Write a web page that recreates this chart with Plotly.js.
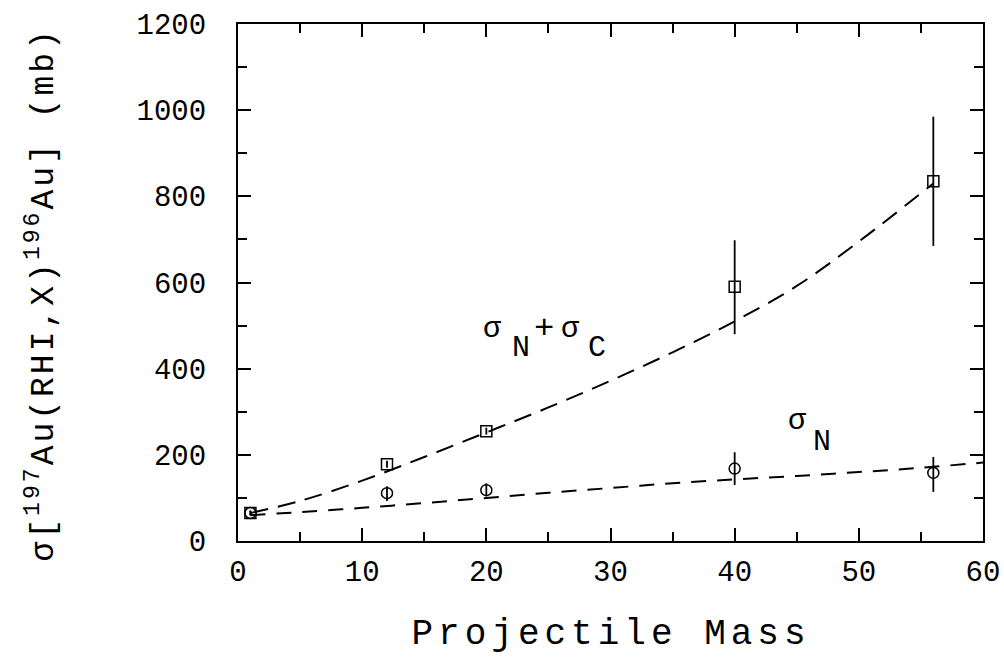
<!DOCTYPE html>
<html><head><meta charset="utf-8">
<script src="https://cdn.plot.ly/plotly-3.0.1.min.js"></script>
<style>
html,body{margin:0;padding:0;background:#fff}
#plot{width:1004px;height:657px}
.annotation[data-index="7"] text{letter-spacing:3px}
.annotation[data-index="8"] text{letter-spacing:5px}
</style>
</head><body><div id="plot"></div>
<script>
// Measured data: sigma_N + sigma_C (squares)
const massNC = [1, 12, 20, 40, 56];
const sigNC = [65, 178, 255, 590, 835];
const errNCplus = [6, 8, 8, 108, 150];
const errNCminus = [6, 8, 8, 110, 150];
// Measured data: sigma_N (circles)
const massN = [1, 12, 20, 40, 56];
const sigN = [65, 111, 118, 168, 158];
const errNplus = [5, 16, 16, 38, 37];
const errNminus = [5, 18, 14, 38, 44];
// Dashed curves
const curveNCx = [1, 5, 10, 15, 20, 25, 30, 35, 40, 45, 50, 56];
const curveNCy = [65, 93, 140, 195, 252, 310, 372, 438, 510, 592, 695, 830];
const curveNx = [1, 5, 10, 15, 20, 25, 30, 35, 40, 45, 50, 55, 60];
const curveNy = [60, 67, 77, 88, 100, 112, 123, 134, 143, 151, 160, 170, 182];
// Tick labels
const xTicks = [0, 10, 20, 30, 40, 50, 60];
const yTicks = [0, 200, 400, 600, 800, 1000, 1200];
// Axis titles
const xTitle = 'Projectile Mass';
const yTitle = 'σ[<sup>197</sup>Au(RHI,X)<sup>196</sup>Au] (mb)';
// Curve labels (pieces of σN+σC and σN)
const labelText = ['σ', 'N', '+', 'σ', 'C', 'σ', 'N'];
const labelX = [20.46, 22.79, 24.64, 26.74, 28.91, 45.02, 47.03];
const labelY = [492, 448, 492, 492, 448, 278, 230];

const FONT = '"Liberation Mono", "DejaVu Sans Mono", monospace';

const traces = [
  {x: curveNCx, y: curveNCy, mode: 'lines', line: {color: '#000', width: 2, dash: '18px,10px', shape: 'spline', smoothing: 1}, hoverinfo: 'skip'},
  {x: curveNx, y: curveNy, mode: 'lines', line: {color: '#000', width: 2, dash: '15px,11px', shape: 'spline', smoothing: 1}, hoverinfo: 'skip'},
  {x: massNC, y: sigNC, mode: 'markers', marker: {symbol: 'square-open', size: 11, color: '#000', line: {width: 1.5}},
   error_y: {type: 'data', symmetric: false, array: errNCplus, arrayminus: errNCminus, color: '#000', thickness: 1.8, width: 0}},
  {x: massN, y: sigN, mode: 'markers', marker: {symbol: 'circle-open', size: 11, color: '#000', line: {width: 1.5}},
   error_y: {type: 'data', symmetric: false, array: errNplus, arrayminus: errNminus, color: '#000', thickness: 1.8, width: 0}}
];

const annotations = labelText.map((t, i) => ({
  x: labelX[i], y: labelY[i], xref: 'x', yref: 'y', showarrow: false,
  text: t, font: {size: t === '+' ? 34 : 30, family: FONT, color: '#000'}
}));
// y-axis title (index 7) and x-axis title (index 8)
annotations.push({
  x: -0.2644, y: 0.4758, xref: 'paper', yref: 'paper', showarrow: false, textangle: -90,
  xanchor: 'center', yanchor: 'middle',
  text: yTitle, font: {size: 33, family: FONT, color: '#000'}
});
annotations.push({
  x: 0.5, y: -0.1818, xref: 'paper', yref: 'paper', showarrow: false,
  xanchor: 'center', yanchor: 'middle',
  text: xTitle, font: {size: 36, family: FONT, color: '#000'}
});

const layout = {
  width: 1004, height: 657,
  margin: {l: 238, r: 21, t: 24, b: 116},
  paper_bgcolor: '#fff', plot_bgcolor: '#fff',
  showlegend: false,
  font: {family: FONT, color: '#000'},
  xaxis: {
    range: [0, 60], tickvals: xTicks,
    showgrid: false, zeroline: false, showline: true, linecolor: '#000', linewidth: 2,
    mirror: 'allticks', ticks: 'inside', ticklen: 13, tickwidth: 2, tickcolor: '#000',
    minor: {dtick: 5, ticks: 'inside', ticklen: 9, tickwidth: 2, tickcolor: '#000', showgrid: false},
    tickfont: {size: 29, family: FONT}, ticklabelstandoff: 3
  },
  yaxis: {
    range: [0, 1200], tickvals: yTicks,
    showgrid: false, zeroline: false, showline: true, linecolor: '#000', linewidth: 2,
    mirror: 'allticks', ticks: 'inside', ticklen: 13, tickwidth: 2, tickcolor: '#000',
    minor: {dtick: 100, ticks: 'inside', ticklen: 9, tickwidth: 2, tickcolor: '#000', showgrid: false},
    tickfont: {size: 29, family: FONT}, ticklabelstandoff: 24
  },
  annotations: annotations
};

Plotly.newPlot('plot', traces, layout, {displayModeBar: false, staticPlot: true});
</script></body></html>
